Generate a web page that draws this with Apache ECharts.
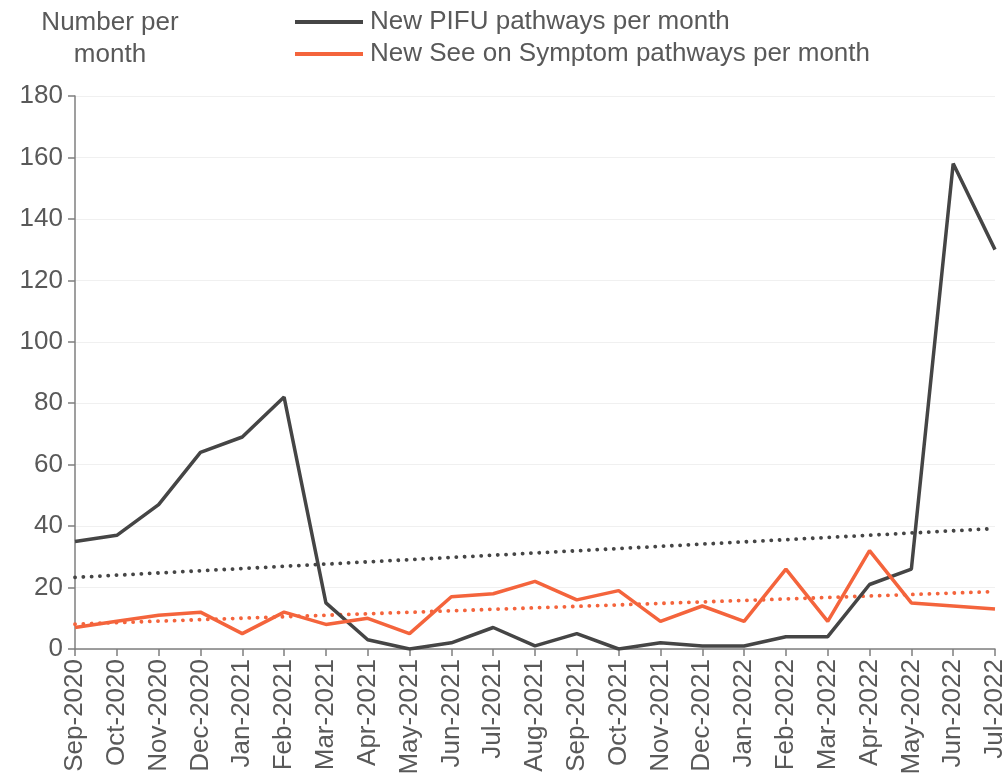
<!DOCTYPE html>
<html>
<head>
<meta charset="utf-8">
<script src="https://cdn.jsdelivr.net/npm/echarts@6/dist/echarts.min.js"></script>
<style>
  html, body { margin: 0; padding: 0; background: #fff; }
  #chart { width: 1008px; height: 781px; }
</style>
</head>
<body>
<div id="chart"></div>
<script>
// months on the x axis
const months = ['Sep-2020', 'Oct-2020', 'Nov-2020', 'Dec-2020', 'Jan-2021', 'Feb-2021', 'Mar-2021',
  'Apr-2021', 'May-2021', 'Jun-2021', 'Jul-2021', 'Aug-2021', 'Sep-2021', 'Oct-2021', 'Nov-2021',
  'Dec-2021', 'Jan-2022', 'Feb-2022', 'Mar-2022', 'Apr-2022', 'May-2022', 'Jun-2022', 'Jul-2022'];

// values
const pifu = [35, 37, 47, 64, 69, 82, 15, 3, 0, 2, 7, 1, 5, 0, 2, 1, 1, 4, 4, 21, 26, 158, 130];
const sos = [7, 9, 11, 12, 5, 12, 8, 10, 5, 17, 18, 22, 16, 19, 9, 14, 9, 26, 9, 32, 15, 14, 13];

// trend line ends (first / last month)
const pifuTrend = [23.3, 39.2];
const sosTrend = [8.1, 18.7];

const grey = '#454545';
const orange = '#f4643c';
const last = months.length - 1;

const chart = echarts.init(document.getElementById('chart'));
const dotted = (c) => ({ color: c, width: 3.8, type: [0.1, 8.2], cap: 'round' });

chart.setOption({
  animation: false,
  textStyle: { fontFamily: 'Liberation Sans, Arial, sans-serif' },
  title: {
    text: 'Number per\nmonth',
    left: 105, top: 2,
    textAlign: 'center',
    textStyle: { fontSize: 26, fontWeight: 'normal', color: '#595959', lineHeight: 32, align: 'center' }
  },
  legend: {
    orient: 'vertical',
    left: 290, top: 3,
    itemWidth: 68, itemHeight: 4, itemGap: 4,
    icon: 'rect',
    data: ['New PIFU pathways per month', 'New See on Symptom pathways per month'],
    textStyle: { fontSize: 26, color: '#595959', lineHeight: 28, padding: [0, 0, 0, 2] }
  },
  grid: { left: 75, right: 13, top: 96, bottom: 132 },
  xAxis: {
    type: 'category',
    data: months,
    boundaryGap: false,
    axisLine: { lineStyle: { color: '#7f7f7f', width: 1.5 } },
    axisTick: { show: true, length: 7, interval: 0, lineStyle: { color: '#7f7f7f', width: 1.5 } },
    axisLabel: { rotate: 90, interval: 0, fontSize: 26, color: '#595959', margin: 10 },
    splitLine: { show: false }
  },
  yAxis: {
    type: 'value',
    min: 0, max: 180, interval: 20,
    axisLine: { show: true, lineStyle: { color: '#7f7f7f', width: 1.5 } },
    axisTick: { show: true, length: 7, lineStyle: { color: '#7f7f7f', width: 1.5 } },
    axisLabel: { fontSize: 26, color: '#595959', margin: 12 },
    splitLine: { lineStyle: { color: '#f0f0f0', width: 1 } }
  },
  series: [
    {
      name: 'New PIFU pathways per month',
      type: 'line',
      data: pifu,
      symbol: 'none',
      color: grey,
      lineStyle: { color: grey, width: 3.5 },
      z: 3
    },
    {
      name: 'New See on Symptom pathways per month',
      type: 'line',
      data: sos,
      symbol: 'none',
      color: orange,
      lineStyle: { color: orange, width: 3.5 },
      z: 4
    },
    {
      name: 'PIFU trend',
      type: 'line',
      data: [[0, pifuTrend[0]], [last, pifuTrend[1]]],
      symbol: 'none',
      lineStyle: dotted(grey),
      z: 2
    },
    {
      name: 'SoS trend',
      type: 'line',
      data: [[0, sosTrend[0]], [last, sosTrend[1]]],
      symbol: 'none',
      lineStyle: dotted(orange),
      z: 2
    }
  ]
});
</script>
</body>
</html>
